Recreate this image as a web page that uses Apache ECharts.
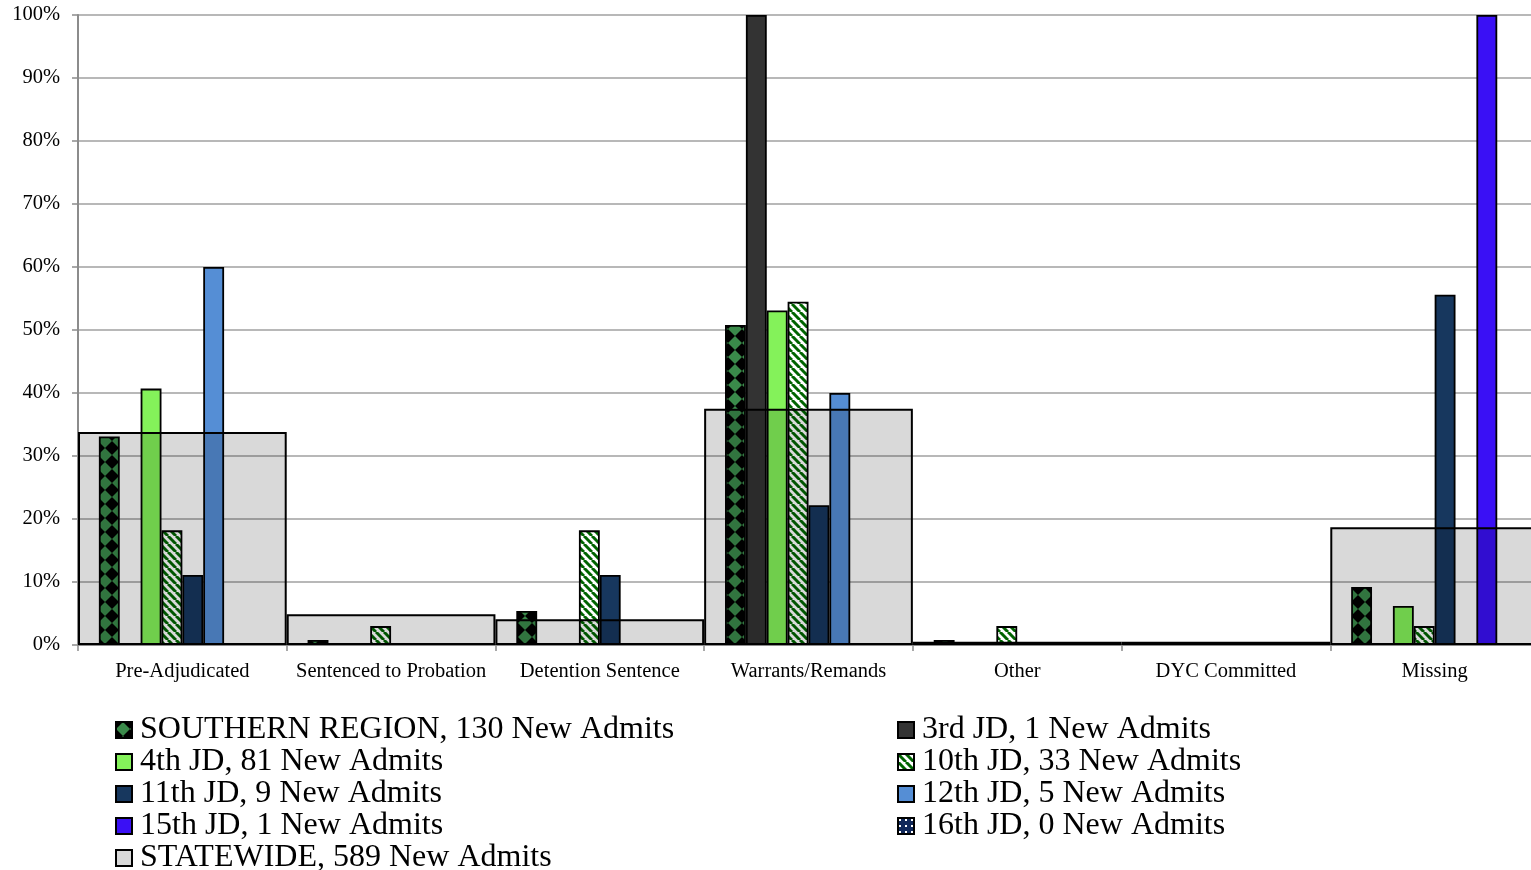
<!DOCTYPE html>
<html>
<head>
<meta charset="utf-8">
<script src="https://cdn.jsdelivr.net/npm/echarts@6/dist/echarts.min.js"></script>
<style>
html,body{margin:0;padding:0;background:#fff;}
#chart{width:1531px;height:870px;}
</style>
</head>
<body>
<div id="chart"></div>
<script>
// ---- data ----
const categories = ['Pre-Adjudicated','Sentenced to Probation','Detention Sentence','Warrants/Remands','Other','DYC Committed','Missing'];
const yTicks = [0,10,20,30,40,50,60,70,80,90,100];
const seriesNames = [
  'SOUTHERN REGION, 130 New Admits',
  '3rd JD, 1 New Admits',
  '4th JD, 81 New Admits',
  '10th JD, 33 New Admits',
  '11th JD, 9 New Admits',
  '12th JD, 5 New Admits',
  '15th JD, 1 New Admits',
  '16th JD, 0 New Admits'
];
const statewideName = 'STATEWIDE, 589 New Admits';
const southern = [33.1, 0.8, 5.4, 50.8, 0.8, 0, 9.2];
const jd3      = [0, 0, 0, 100, 0, 0, 0];
const jd4      = [40.7, 0, 0, 53.1, 0, 0, 6.2];
const jd10     = [18.2, 3.0, 18.2, 54.5, 3.0, 0, 3.0];
const jd11     = [11.1, 0, 11.1, 22.2, 0, 0, 55.6];
const jd12     = [60, 0, 0, 40, 0, 0, 0];
const jd15     = [0, 0, 0, 0, 0, 0, 100];
const jd16     = [0, 0, 0, 0, 0, 0, 0];
const statewide = [33.8, 4.9, 4.1, 37.5, 0.5, 0.5, 18.7];

// ---- patterns ----
function makePattern(size, draw){
  const c = document.createElement('canvas');
  c.width = size; c.height = size;
  draw(c.getContext('2d'), size);
  return {image: c, repeat: 'repeat'};
}
const diamondPat = makePattern(14, (g, s) => {
  g.fillStyle = '#000'; g.fillRect(0,0,s,s);
  g.fillStyle = '#3a8a4a';
  g.beginPath(); g.moveTo(s/2,0); g.lineTo(s,s/2); g.lineTo(s/2,s); g.lineTo(0,s/2); g.closePath(); g.fill();
});
const stripePat = makePattern(8, (g, s) => {
  g.fillStyle = '#fff'; g.fillRect(0,0,s,s);
  g.strokeStyle = '#006400'; g.lineWidth = 3;
  for (const o of [-8, 0, 8]) { g.beginPath(); g.moveTo(o, 0); g.lineTo(o + 8, 8); g.stroke(); }
});
const dotPat = makePattern(6, (g, s) => {
  g.fillStyle = '#10285a'; g.fillRect(0,0,s,s);
  g.fillStyle = '#fff'; g.fillRect(1,1,2,2);
});

const colors = [diamondPat, '#333333', '#84f25a', stripePat, '#17375e', '#558ed5', '#3a10f5', dotPat];
const datas = [southern, jd3, jd4, jd10, jd11, jd12, jd15, jd16];

const font = 'Liberation Serif';
const series = datas.map((d, i) => ({
  name: seriesNames[i],
  type: 'bar',
  xAxisIndex: 0,
  data: d.map(v => v === 0 ? null : v),
  barGap: '0%',
  barCategoryGap: '20%',
  itemStyle: {color: colors[i], borderColor: '#000', borderWidth: 1.8},
  z: 2
}));
series.push({
  name: statewideName,
  type: 'bar',
  xAxisIndex: 1,
  data: statewide,
  barCategoryGap: '0%',
  itemStyle: {color: 'rgba(0,0,0,0.15)', borderColor: '#000', borderWidth: 2},
  z: 3
});

const legendText = {fontFamily: font, fontSize: 32, color: '#000', lineHeight: 31.5, padding: [0,0,0,3]};

const chart = echarts.init(document.getElementById('chart'));
chart.setOption({
  animation: false,
  backgroundColor: '#fff',
  grid: {left: 78, top: 15, width: 1461, bottom: 225, outerBoundsMode: 'none'},
  xAxis: [
    {
      type: 'category', data: categories,
      axisLine: {lineStyle: {color: '#8c8c8c', width: 2}},
      axisTick: {show: true, length: 6, lineStyle: {color: '#8c8c8c', width: 1.5}},
      axisLabel: {fontFamily: font, fontSize: 20.5, color: '#000', margin: 16, interval: 0}
    },
    {
      type: 'category', data: categories, show: false
    }
  ],
  yAxis: {
    type: 'value', min: 0, max: 100, interval: 10,
    axisLine: {show: true, lineStyle: {color: '#8c8c8c', width: 2}},
    axisTick: {show: true, length: 6, lineStyle: {color: '#8c8c8c', width: 1.5}},
    splitLine: {lineStyle: {color: '#a0a0a0', width: 1.5}},
    axisLabel: {fontFamily: font, fontSize: 20.5, color: '#000', margin: 18,
      formatter: v => yTicks.includes(v) ? v + '%' : ''}
  },
  legend: [
    {
      orient: 'vertical', left: 115, top: 714, padding: 0, height: 170,
      data: [seriesNames[0], seriesNames[2], seriesNames[4], seriesNames[6], statewideName],
      icon: 'rect', itemWidth: 16, itemHeight: 16, itemGap: 0,
      textStyle: legendText,
      itemStyle: {borderColor: '#000', borderWidth: 2}
    },
    {
      orient: 'vertical', left: 897, top: 714, padding: 0, height: 170,
      data: [seriesNames[1], seriesNames[3], seriesNames[5], seriesNames[7]],
      icon: 'rect', itemWidth: 16, itemHeight: 16, itemGap: 0,
      textStyle: legendText,
      itemStyle: {borderColor: '#000', borderWidth: 2}
    }
  ],
  series: series
});
</script>
</body>
</html>
